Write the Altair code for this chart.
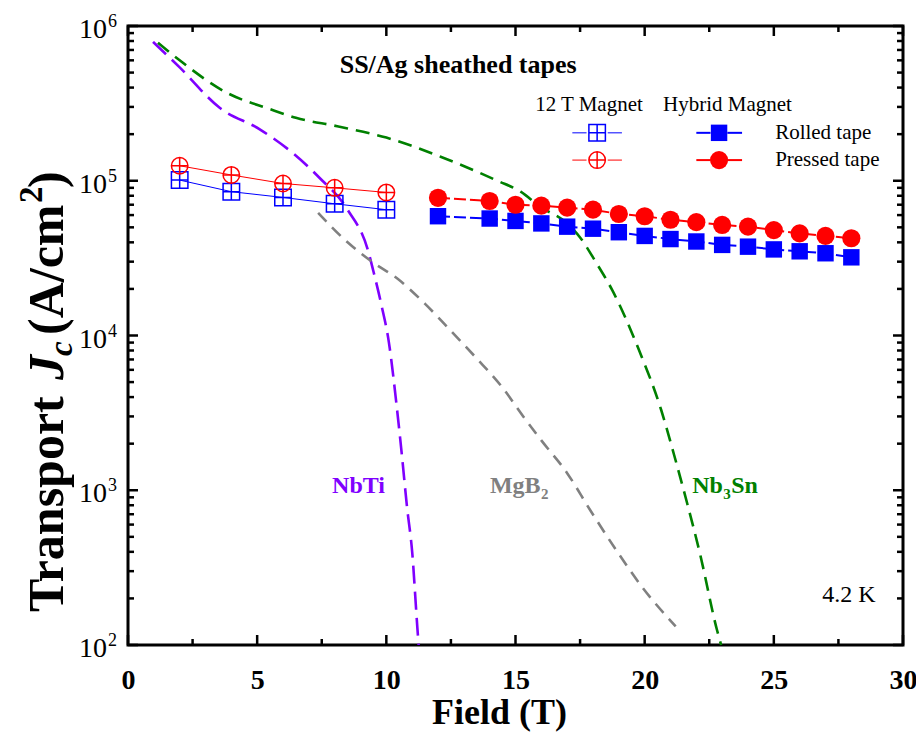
import altair as alt
import pandas as pd

# ---------------- data ----------------
field_12T = [2, 4, 6, 8, 10]
rolled_12T = [1.01e5, 8.5e4, 7.8e4, 7.1e4, 6.5e4]
pressed_12T = [1.25e5, 1.09e5, 9.6e4, 9.0e4, 8.4e4]

field_hyb = [12, 14, 15, 16, 17, 18, 19, 20, 21, 22, 23, 24, 25, 26, 27, 28]
rolled_hyb = [5.9e4, 5.7e4, 5.5e4, 5.3e4, 5.05e4, 4.9e4, 4.65e4, 4.4e4, 4.2e4,
              4.05e4, 3.85e4, 3.75e4, 3.6e4, 3.5e4, 3.4e4, 3.2e4]
pressed_hyb = [7.76e4, 7.4e4, 7.0e4, 6.9e4, 6.7e4, 6.5e4, 6.1e4, 5.9e4, 5.6e4,
               5.4e4, 5.18e4, 5.05e4, 4.8e4, 4.57e4, 4.4e4, 4.25e4]

nbti_B = [0.97, 2.0, 3.56, 5.1, 6.4, 7.4, 8.5, 9.3, 9.5, 9.8, 10.1, 10.4, 10.6,
          10.8, 11.0, 11.2, 11.25]
nbti_Jc = [7.9e5, 5.4e5, 2.95e5, 2.15e5, 1.5e5, 1.05e5, 6.5e4, 3.5e4, 2.6e4,
           1.6e4, 9.0e3, 3.5e3, 1.7e3, 7.8e2, 4.0e2, 1.3e2, 1.0e2]

mgb2_B = [7.36, 8.5, 9.5, 10.4, 11.5, 12.5, 13.5, 14.5, 15.3, 16.0, 17.0, 17.9,
          18.9, 19.9, 21.2]
mgb2_Jc = [6.2e4, 4.0e4, 2.95e4, 2.35e4, 1.6e4, 1.07e4, 7.1e3, 4.6e3, 3.0e3,
           2.1e3, 1.29e3, 7.4e2, 4.1e2, 2.37e2, 1.32e2]

nb3sn_B = [1.16, 2.0, 3.83, 5.5, 6.5, 8.1, 10.0, 12.1, 14.3, 15.2, 15.95, 17.0,
           17.5, 18.1, 18.74, 19.78, 20.64, 21.14, 21.64, 22.14, 22.8, 22.96]
nb3sn_Jc = [7.8e5, 6.0e5, 3.7e5, 2.9e5, 2.55e5, 2.25e5, 1.9e5, 1.43e5, 1.0e5,
            8.5e4, 6.8e4, 5.3e4, 4.3e4, 3.0e4, 1.97e4, 8.05e3, 3.3e3, 1.69e3,
            8.3e2, 3.9e2, 1.25e2, 1.0e2]

x_major = [0, 5, 10, 15, 20, 25, 30]
x_minor = [2.5, 7.5, 12.5, 17.5, 22.5, 27.5]
y_major = [1e2, 1e3, 1e4, 1e5, 1e6]
y_exponents = ["2", "3", "4", "5", "6"]
y_minor = [k * 10 ** e for e in range(2, 6) for k in range(2, 10)]

# ---------------- layout ----------------
W, H = 775, 619
SERIF = "Liberation Serif"
BLUE, RED = "#0000FF", "#FF0000"
PURPLE, GRAY, GREEN = "#7F00FF", "#808080", "#008000"

xs = alt.Scale(domain=[0, 30], nice=False, zero=False)
ys = alt.Scale(type="log", domain=[100, 1e6], nice=False)
xaxis = alt.Axis(values=x_major, format="d", grid=False, ticks=False, tickSize=0,
                 domain=False, labelFont=SERIF, labelFontWeight="bold",
                 labelFontSize=28, labelColor="black", labelFlush=False,
                 labelOverlap=False, labelBaseline="alphabetic", labelPadding=43,
                 title="Field (T)", titleFont=SERIF, titleFontWeight="bold",
                 titleFontSize=36, titleColor="black", titleX=371, titleY=78,
                 titleBaseline="alphabetic", titleAlign="center",
                 titleAnchor="start")


def X(f):
    return alt.X(f"{f}:Q", scale=xs, axis=xaxis)


def Y(f):
    return alt.Y(f"{f}:Q", scale=ys, axis=None)


SQ_CROSS = "M-1,-1L1,-1L1,1L-1,1Z M0,-1L0,1 M-1,0L1,0"
CI_CROSS = "M-1,0A1,1,0,1,1,1,0A1,1,0,1,1,-1,0Z M0,-1L0,1 M-1,0L1,0"

layers = []

# reference conductor curves
for B, J, col, dash in [(nbti_B, nbti_Jc, PURPLE, [18, 8]),
                        (mgb2_B, mgb2_Jc, GRAY, [12, 8]),
                        (nb3sn_B, nb3sn_Jc, GREEN, [14, 8])]:
    df = pd.DataFrame({"B": B, "Jc": J, "o": range(len(B))})
    layers.append(alt.Chart(df).mark_line(color=col, strokeWidth=2.6,
                                          strokeDash=dash, interpolate="monotone")
                  .encode(x=X("B"), y=Y("Jc"), order="o:Q"))

# 12 T magnet (open symbols)
d12 = pd.DataFrame({"B": field_12T, "rolled": rolled_12T, "pressed": pressed_12T})
for f, col, shp in [("rolled", BLUE, SQ_CROSS), ("pressed", RED, CI_CROSS)]:
    layers.append(alt.Chart(d12).mark_line(color=col, strokeWidth=1)
                  .encode(x=X("B"), y=Y(f)))
    layers.append(alt.Chart(d12).mark_point(shape=shp, filled=False, color=col,
                                            strokeWidth=1.5, size=272, opacity=1)
                  .encode(x=X("B"), y=Y(f)))

# hybrid magnet (filled symbols)
dh = pd.DataFrame({"B": field_hyb, "rolled": rolled_hyb, "pressed": pressed_hyb})
for f, col, shp, sz in [("rolled", BLUE, "square", 270), ("pressed", RED, "circle", 330)]:
    layers.append(alt.Chart(dh).mark_line(color=col, strokeWidth=2,
                                          strokeDash=[12, 4])
                  .encode(x=X("B"), y=Y(f)))
    layers.append(alt.Chart(dh).mark_point(shape=shp, filled=True, color=col,
                                           size=sz, opacity=1)
                  .encode(x=X("B"), y=Y(f)))

# ---------------- legend (placed in data coordinates) ----------------
leg_row_y = [2.04e5, 1.36e5]
leg_head = pd.DataFrame({"x": [15.76, 20.71], "y": [3.09e5, 3.09e5],
                         "t": ["12 T Magnet", "Hybrid Magnet"]})
layers.append(alt.Chart(leg_head).mark_text(font=SERIF, fontSize=21, align="left",
                                            baseline="middle", color="black")
              .encode(x=X("x"), y=Y("y"), text="t:N"))
leg_txt = pd.DataFrame({"x": [25.05, 25.05], "y": leg_row_y,
                        "t": ["Rolled tape", "Pressed tape"]})
layers.append(alt.Chart(leg_txt).mark_text(font=SERIF, fontSize=21, align="left",
                                           baseline="middle", color="black")
              .encode(x=X("x"), y=Y("y"), text="t:N"))
for i, (col, oshape, fshape, fsz) in enumerate([(BLUE, SQ_CROSS, "square", 270),
                                                (RED, CI_CROSS, "circle", 330)]):
    yy = leg_row_y[i]
    seg_open = pd.DataFrame({"x": [17.2, 18.57], "x2": [17.75, 19.12], "y": [yy, yy]})
    layers.append(alt.Chart(seg_open).mark_rule(color=col, strokeWidth=1)
                  .encode(x=X("x"), x2="x2:Q", y=Y("y")))
    seg_fill = pd.DataFrame({"x": [22.0, 23.2], "x2": [22.55, 23.77], "y": [yy, yy]})
    layers.append(alt.Chart(seg_fill).mark_rule(color=col, strokeWidth=2)
                  .encode(x=X("x"), x2="x2:Q", y=Y("y")))
    layers.append(alt.Chart(pd.DataFrame({"x": [18.16], "y": [yy]}))
                  .mark_point(shape=oshape, filled=False, color=col, strokeWidth=1.5,
                              size=272, opacity=1)
                  .encode(x=X("x"), y=Y("y")))
    layers.append(alt.Chart(pd.DataFrame({"x": [22.88], "y": [yy]}))
                  .mark_point(shape=fshape, filled=True, color=col, size=fsz, opacity=1)
                  .encode(x=X("x"), y=Y("y")))

# ---------------- annotations ----------------
ann = [
    ("SS/Ag sheathed tapes", 12.78, 4.97e5, "center", 26, "bold", "black"),
    ("4.2 K", 26.87, 1.9e2, "left", 24, "normal", "black"),
    ("NbTi", 7.9, 9.6e2, "left", 24, "bold", PURPLE),
]
for t, x, y, al, fs, fw, col in ann:
    layers.append(alt.Chart(pd.DataFrame({"x": [x], "y": [y]}))
                  .mark_text(text=t, font=SERIF, fontSize=fs, fontWeight=fw,
                             align=al, baseline="alphabetic", color=col)
                  .encode(x=X("x"), y=Y("y")))

# MgB2 and Nb3Sn with subscripts
sub_parts = [
    ("MgB", 14.01, 0, 24, GRAY, 0), ("2", 14.01, 51, 15, GRAY, 6),
    ("Nb", 21.84, 0, 24, GREEN, 0), ("3", 21.84, 31, 15, GREEN, 6),
    ("Sn", 21.84, 39, 24, GREEN, 0),
]
for t, x, dx, fs, col, dy in sub_parts:
    layers.append(alt.Chart(pd.DataFrame({"x": [x], "y": [9.6e2]}))
                  .mark_text(text=t, font=SERIF, fontSize=fs, fontWeight="bold",
                             align="left", baseline="alphabetic", color=col,
                             dx=dx, dy=dy)
                  .encode(x=X("x"), y=Y("y")))

# ---------------- frame ticks (inward) ----------------
for vals, L in [(x_major, 10), (x_minor, 6)]:
    d = pd.DataFrame({"v": vals})
    layers.append(alt.Chart(d).mark_rule(color="black", strokeWidth=2.5)
                  .encode(x=X("v"), y=alt.value(H), y2=alt.value(H - L)))
    layers.append(alt.Chart(d).mark_rule(color="black", strokeWidth=2.5)
                  .encode(x=X("v"), y=alt.value(0), y2=alt.value(L)))
for vals, L in [(y_major, 10), (y_minor, 6)]:
    d = pd.DataFrame({"v": vals})
    layers.append(alt.Chart(d).mark_rule(color="black", strokeWidth=2.5)
                  .encode(y=Y("v"), x=alt.value(0), x2=alt.value(L)))
    layers.append(alt.Chart(d).mark_rule(color="black", strokeWidth=2.5)
                  .encode(y=Y("v"), x=alt.value(W), x2=alt.value(W - L)))

# y tick labels 10^n
dyl = pd.DataFrame({"v": y_major, "e": y_exponents})
layers.append(alt.Chart(dyl).mark_text(text="10", font=SERIF, fontSize=28,
                                       align="right", baseline="alphabetic",
                                       color="black", dy=12)
              .encode(y=Y("v"), x=alt.value(-21)))
layers.append(alt.Chart(dyl).mark_text(font=SERIF, fontSize=18, align="left",
                                       baseline="alphabetic", color="black", dy=1)
              .encode(y=Y("v"), x=alt.value(-20), text="e:N"))

# y axis title, rotated, built from pieces
BX = -65
title_parts = [
    ("Transport\u00a0", BX, 586, 50, "bold", "normal"),
    ("J", BX, 354, 50, "bold", "italic"),
    ("c", BX + 9, 330, 33, "bold", "italic"),
    ("\u00a0(A/cm", BX, 309, 50, "bold", "normal"),
    ("2", BX - 21, 177, 33, "bold", "normal"),
    (")", BX, 162, 50, "bold", "normal"),
]
for t, px, py, fs, fw, fst in title_parts:
    layers.append(alt.Chart(pd.DataFrame({"d": [0]}))
                  .mark_text(text=t, font=SERIF, fontSize=fs, fontWeight=fw,
                             fontStyle=fst, angle=270, align="left",
                             baseline="alphabetic", color="black")
                  .encode(x=alt.value(px), y=alt.value(py)))

chart = alt.layer(*layers).properties(
    width=W, height=H,
    autosize=alt.AutoSizeParams(type="none"),
    padding={"left": 120, "top": 18, "right": 13, "bottom": 91},
    background="white",
).configure_view(stroke="black", strokeWidth=3)

chart.save("out.html", embed_options={"renderer": "svg", "actions": False})
